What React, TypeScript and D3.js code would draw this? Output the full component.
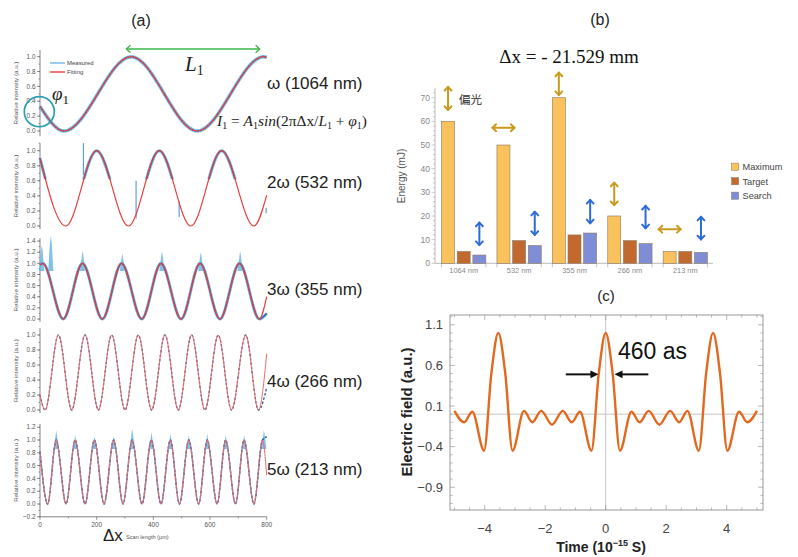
import React from "react";
import * as d3 from "d3";

// ---------- (a) scan traces: turning points (Δx in µm, intensity in a.u.)
const harmonicLabels = ["ω (1064 nm)", "2ω (532 nm)", "3ω (355 nm)", "4ω (266 nm)", "5ω (213 nm)"];

const fitW1 = [[0, 0.33], [85, 0], [322, 1], [555, 0], [790, 1], [800, 0.99]];
const fitW2 = [[0, 0.9], [91, 0], [200, 1], [312, 0], [421, 1], [532, 0], [641, 1], [755, 0], [800, 0.41]];
const fitW3 = [[0, 0.97], [10, 1], [82, 0], [150, 1], [220, 0], [288, 1], [359, 0], [427, 1], [498, 0],
  [565, 1], [635, 0], [704, 1], [774, 0], [800, 0.4]];
const fitW4 = [[0, 0.2], [18, 0], [65, 1], [112, 0], [159, 1], [206, 0], [253, 1], [300, 0], [347, 1], [394, 0],
  [441, 1], [488, 0], [535, 1], [582, 0], [629, 1], [676, 0], [726, 1], [771, 0], [800, 0.75]];
const fitW5 = [[0, 0.82], [27, 0], [57, 1], [92, 0], [124, 1], [159, 0], [192, 1], [226, 0], [260, 1], [293, 0],
  [325, 1], [360, 0], [393, 1], [427, 0], [460, 1], [492, 0], [525, 1], [560, 0], [590, 1], [625, 0],
  [655, 1], [690, 0], [720, 1], [755, 0], [785, 1], [800, 0.45]];

// where the measured trace ends (it does not follow the fit at the very end)
const measuredTail = [0.99, 0.2, 0.1, 0.3, 1.05];

// single glitches in the 2ω trace: [x, low, high]
const spikesW2 = [[153, 0.68, 1.1], [339, 0.1, 0.6], [491, 0.12, 0.33], [798, 0.17, 0.24]];
// noisy tops: [x, highest value reached]
const burstsW3 = [[6, 1.32], [38, 1.48], [150, 1.22], [290, 1.18], [430, 1.22], [567, 1.2], [706, 1.22]];
const burstsW5 = [[57, 1.15], [124, 1.08], [192, 1.06], [260, 1.06], [325, 1.18], [393, 1.12], [460, 1.1],
  [525, 1.08], [590, 1.1], [655, 1.08], [720, 1.08], [790, 1.16]];

const scanTicksX = [0, 200, 400, 600, 800];

// ---------- (b) pulse energy per wavelength
const bandLabels = ["1064 nm", "532 nm", "355 nm", "266 nm", "213 nm"];
const energySeries = ["Maximum", "Target", "Search"];
const maximumMJ = [60, 50, 70, 20, 5];
const targetMJ = [5, 9.6, 12, 9.6, 5];
const searchMJ = [3.5, 7.5, 12.8, 8.3, 4.6];
const energyTicks = [0, 10, 20, 30, 40, 50, 60, 70];

// polarisation arrows: band, bar, vertical/horizontal, extent in mJ
const polBand = [0, 1, 2, 3, 4, 0, 1, 2, 3, 4];
const polSeries = [0, 0, 0, 0, 0, 2, 2, 2, 2, 2];
const polVertical = [true, false, true, true, false, true, true, true, true, true];
const polLow = [64.8, 57.3, 71.1, 24.6, 14.4, 7.7, 12.0, 16.9, 14.8, 10.1];
const polHigh = [74.6, 57.3, 80.6, 34.1, 14.4, 17.2, 21.8, 26.8, 24.3, 19.7];

// ---------- (c) synthesized field
const timeFs = [-5.0, -4.68, -4.41, -4.02, -3.78, -3.55, -3.32, -3.08, -2.7, -2.43, -2.13, -1.775, -1.42, -1.12,
  -0.85, -0.47, -0.23, 0, 0.23, 0.47, 0.85, 1.12, 1.42, 1.775, 2.13, 2.43, 2.7, 3.08, 3.32, 3.55, 3.78, 4.02,
  4.41, 4.68, 5.0];
const fieldAU = [0.04, -0.1, 0.03, -0.45, 0.5, 1.0, 0.5, -0.45, 0.04, -0.1, 0.04, -0.13, 0.04, -0.1,
  0.03, -0.45, 0.5, 1.0, 0.5, -0.45, 0.03, -0.1, 0.04, -0.13, 0.04, -0.1, 0.04, -0.45, 0.5, 1.0, 0.5, -0.45,
  0.03, -0.1, 0.04];
const fieldTicks = [1.1, 0.6, 0.1, -0.4, -0.9];
const timeTicks = [-4, -2, 0, 2, 4];
const fwhmFrom = [-1.32, 1.41];
const fwhmTo = [-0.24, 0.29];

const GOLD = "#c99a1c";
const BLUE = "#2e6bd6";
const barColors = ["#f9c25c", "#c1692e", "#7f8dd6"];

function DoubleArrow({ x1, y1, x2, y2, color, width = 2, head = 5 }) {
  const a = Math.atan2(y2 - y1, x2 - x1);
  const chevron = (x, y, dir) => {
    const b = a + (dir > 0 ? 0 : Math.PI);
    const p1 = [x - head * Math.cos(b - 0.75), y - head * Math.sin(b - 0.75)];
    const p2 = [x - head * Math.cos(b + 0.75), y - head * Math.sin(b + 0.75)];
    return `M${p1[0]},${p1[1]}L${x},${y}L${p2[0]},${p2[1]}`;
  };
  return (
    <g stroke={color} strokeWidth={width} fill="none" strokeLinecap="round" strokeLinejoin="round">
      <line x1={x1} y1={y1} x2={x2} y2={y2} />
      <path d={chevron(x2, y2, 1)} />
      <path d={chevron(x1, y1, -1)} />
    </g>
  );
}

const scanX = d3.scaleLinear().domain([0, 800]).range([40, 266.7]);

const scanPanels = [
  { fit: fitW1, zero: 131, one: 56.7, axis: [-0.07, 1.09], top: 1.0, labelY: 89, halo: 3.4, core: "1.6 1.2", clipAbove: null, bursts: [], spikes: [] },
  { fit: fitW2, zero: 226, one: 150.7, axis: [-0.04, 1.1], top: 1.0, labelY: 188, halo: 3, core: null, clipAbove: 0.62, bursts: [], spikes: spikesW2 },
  { fit: fitW3, zero: 319, one: 263.3, axis: [-0.05, 1.45], top: 1.4, labelY: 295, halo: 3, core: null, clipAbove: null, bursts: burstsW3, spikes: [] },
  { fit: fitW4, zero: 410, one: 335, axis: [-0.04, 1.09], top: 1.0, labelY: 387, halo: 0, core: "2.5 1.8", clipAbove: null, bursts: [], spikes: [] },
  { fit: fitW5, zero: 504, one: 440, axis: [-0.2, 1.25], top: 1.2, labelY: 475, halo: 1.5, core: "2.5 1.8", clipAbove: null, bursts: burstsW5, spikes: [] },
];

function ScanPanel({ p, i }) {
  const y = d3.scaleLinear().domain([0, 1]).range([p.zero, p.one]);
  const line = d3.line().x((d) => scanX(d[0])).y((d) => y(d[1])).curve(d3.curveMonotoneX);
  const measured = [...p.fit.slice(0, -1), [800, measuredTail[i]]];
  const lo = p.axis[0] < -0.1 ? -0.2 : 0;
  const major = d3.range(Math.round(lo * 5), Math.round(p.top * 5) + 1).map((v) => v / 5);
  const minor = d3.range(Math.ceil(p.axis[0] * 10), Math.floor(p.axis[1] * 10) + 1).map((v) => v / 10);
  const fmt = d3.format(".1f");
  const clipId = `clip-scan-${i}`;
  const mid = (y(p.axis[0]) + y(p.axis[1])) / 2;
  return (
    <g>
      {p.clipAbove != null && (
        <clipPath id={clipId}>
          <rect x={30} y={y(1.3)} width={250} height={y(p.clipAbove) - y(1.3)} />
        </clipPath>
      )}
      <line x1={40} x2={40} y1={y(p.axis[0])} y2={y(p.axis[1])} stroke="#666" strokeWidth={0.8} />
      {minor.map((v) => (
        <line key={"m" + v} x1={38.5} x2={40} y1={y(v)} y2={y(v)} stroke="#666" strokeWidth={0.6} />
      ))}
      {major.map((v) => (
        <g key={v}>
          <line x1={37} x2={40} y1={y(v)} y2={y(v)} stroke="#666" strokeWidth={0.7} />
          <text x={35.5} y={y(v) + 2.2} fontSize={6.4} fill="#555" textAnchor="end">{fmt(v)}</text>
        </g>
      ))}
      <text transform={`translate(18,${mid}) rotate(-90)`} fontSize={6.2} fill="#555" textAnchor="middle">
        Relative intensity (a.u.)
      </text>
      {p.bursts.map(([bx, top], k) => (
        <path key={"b" + k}
          d={`M${scanX(bx - 9)},${y(0.86)}L${scanX(bx - 3)},${y(top - 0.12)}L${scanX(bx)},${y(top)}L${scanX(bx + 3)},${y(top - 0.08)}L${scanX(bx + 9)},${y(0.86)}Z`}
          fill="#5aaee0" opacity={0.75} />
      ))}
      <g clipPath={p.clipAbove != null ? `url(#${clipId})` : undefined}>
        {p.halo > 0 && <path d={line(measured)} fill="none" stroke="#5aaee0" strokeWidth={p.halo} opacity={0.85} />}
        <path d={line(measured)} fill="none" stroke="#1d5d9b" strokeWidth={1.3} strokeDasharray={p.core || undefined} />
      </g>
      {p.spikes.map(([sx, a, b], k) => (
        <line key={"s" + k} x1={scanX(sx)} x2={scanX(sx)} y1={y(a)} y2={y(b)} stroke="#3f8fd0" strokeWidth={1} />
      ))}
      <path d={line(p.fit)} fill="none" stroke={i >= 3 ? "#ee6a6a" : "#e8403f"} strokeWidth={i >= 3 ? 1 : 1.2} />
      <text x={267} y={p.labelY} fontSize={17} fill="#222">{harmonicLabels[i]}</text>
    </g>
  );
}

function ScanFigure() {
  const yBottom = 516.8;
  return (
    <g>
      <text x={141} y={26} fontSize={16} textAnchor="middle" fill="#222">(a)</text>
      {scanPanels.map((p, i) => <ScanPanel key={i} p={p} i={i} />)}
      {/* legend of the first trace */}
      <line x1={50} x2={65} y1={63} y2={63} stroke="#6fb7e3" strokeWidth={1.4} />
      <line x1={50} x2={65} y1={72} y2={72} stroke="#e8403f" strokeWidth={1.4} />
      <text x={67} y={65} fontSize={6} fill="#444">Measured</text>
      <text x={67} y={74} fontSize={6} fill="#444">Fitting</text>
      {/* annotations on the first trace */}
      <circle cx={39.3} cy={111.7} r={15} fill="none" stroke="#2aa0b0" strokeWidth={1.7} />
      <text x={52} y={100} fontFamily="'Liberation Serif', serif" fill="#222">
        <tspan fontStyle="italic" fontSize={19}>φ</tspan>
        <tspan fontSize={13} dy={4}>1</tspan>
      </text>
      <DoubleArrow x1={scanX(305)} y1={49} x2={scanX(775)} y2={49} color="#3db54a" width={1.3} head={5} />
      <text x={185} y={71} fontFamily="'Liberation Serif', serif" fill="#222">
        <tspan fontStyle="italic" fontSize={21}>L</tspan>
        <tspan fontSize={14} dy={4}>1</tspan>
      </text>
      <text x={217} y={126} fontFamily="'Liberation Serif', serif" fontSize={15.4} fill="#222">
        <tspan fontStyle="italic">I</tspan><tspan fontSize={10} dy={3}>1</tspan>
        <tspan dy={-3}> = </tspan>
        <tspan fontStyle="italic">A</tspan><tspan fontSize={10} dy={3}>1</tspan>
        <tspan dy={-3} fontStyle="italic">sin</tspan>
        <tspan>(2πΔx/</tspan>
        <tspan fontStyle="italic">L</tspan><tspan fontSize={10} dy={3}>1</tspan>
        <tspan dy={-3}> + </tspan>
        <tspan fontStyle="italic">φ</tspan><tspan fontSize={10} dy={3}>1</tspan>
        <tspan dy={-3}>)</tspan>
      </text>
      {/* shared x axis */}
      <line x1={40} x2={266.7} y1={yBottom} y2={yBottom} stroke="#666" strokeWidth={0.8} />
      {d3.range(0, 801, 100).map((v) => (
        <line key={v} x1={scanX(v)} x2={scanX(v)} y1={yBottom} y2={yBottom + (v % 200 === 0 ? 3 : 1.5)} stroke="#666" strokeWidth={0.7} />
      ))}
      {scanTicksX.map((v) => (
        <text key={v} x={scanX(v)} y={527} fontSize={6.5} fill="#555" textAnchor="middle">{v}</text>
      ))}
      <text x={103} y={541} fontSize={17} fill="#222">Δx</text>
      <text x={126} y={539} fontSize={5.6} fill="#555">Scan length (µm)</text>
    </g>
  );
}

function EnergyBars() {
  const x = d3.scaleBand().domain(bandLabels).range([436, 713]).paddingInner(0.2).paddingOuter(0.1);
  const xs = d3.scaleBand().domain(energySeries).range([0, x.bandwidth()]).paddingInner(0.17);
  const y = d3.scaleLinear().domain([0, 70]).range([263.3, 97.7]);
  const values = [maximumMJ, targetMJ, searchMJ];
  const barCenter = (b, s) => x(bandLabels[b]) + xs(energySeries[s]) + xs.bandwidth() / 2;
  return (
    <g>
      <text x={600} y={25} fontSize={16} textAnchor="middle" fill="#222">(b)</text>
      <text x={569} y={63} fontFamily="'Liberation Serif', serif" fontSize={19} textAnchor="middle" fill="#111">
        Δx = - 21.529 mm
      </text>
      <text transform="translate(405,176) rotate(-90)" fontSize={10} fill="#555" textAnchor="middle">Energy (mJ)</text>
      {/* axes */}
      <line x1={435} x2={435} y1={y(0)} y2={y(74)} stroke="#aaa" strokeWidth={0.8} />
      {d3.range(0, 74, 2).map((v) => (
        <line key={v} x1={v % 10 === 0 ? 431.5 : 433} x2={435} y1={y(v)} y2={y(v)} stroke="#aaa" strokeWidth={0.6} />
      ))}
      {energyTicks.map((v) => (
        <text key={v} x={430} y={y(v) + 3} fontSize={8.5} fill="#888" textAnchor="end">{v}</text>
      ))}
      <line x1={435} x2={713} y1={y(0)} y2={y(0)} stroke="#aaa" strokeWidth={0.8} />
      {bandLabels.map((b) => (
        <g key={b}>
          <line x1={x(b)} x2={x(b)} y1={y(0)} y2={y(0) + 4} stroke="#aaa" strokeWidth={0.7} />
          <line x1={x(b) + x.bandwidth()} x2={x(b) + x.bandwidth()} y1={y(0)} y2={y(0) + 4} stroke="#aaa" strokeWidth={0.7} />
          <text x={x(b) + x.bandwidth() / 2} y={273} fontSize={7.4} fill="#888" textAnchor="middle">{b}</text>
        </g>
      ))}
      {/* bars */}
      {bandLabels.map((b, bi) =>
        energySeries.map((s, si) => (
          <rect key={b + s} x={x(b) + xs(s)} y={y(values[si][bi])} width={xs.bandwidth()}
            height={y(0) - y(values[si][bi])} fill={barColors[si]} stroke="#8a7a66" strokeWidth={0.6} />
        ))
      )}
      {/* polarisation arrows */}
      {polBand.map((b, k) => {
        const cx = barCenter(b, polSeries[k]);
        const color = polSeries[k] === 0 ? GOLD : BLUE;
        return polVertical[k] ? (
          <DoubleArrow key={k} x1={cx} y1={y(polHigh[k])} x2={cx} y2={y(polLow[k])} color={color} width={2} head={5} />
        ) : (
          <DoubleArrow key={k} x1={cx - 11} y1={y(polLow[k])} x2={cx + 11} y2={y(polLow[k])} color={color} width={2} head={5} />
        );
      })}
      <text x={459} y={104} fontFamily="'Noto Sans CJK JP', 'Noto Sans CJK SC', sans-serif" fontSize={11.5} fill="#333">偏光</text>
      {/* legend */}
      {energySeries.map((s, si) => (
        <g key={s} transform={`translate(731.5,${166.7 + si * 14.5})`}>
          <rect x={0} y={-3.6} width={7.2} height={7.2} fill={barColors[si]} stroke="#8a7a66" strokeWidth={0.5} />
          <text x={11} y={3.3} fontSize={9.2} fill="#444">{s}</text>
        </g>
      ))}
    </g>
  );
}

function FieldPlot() {
  const x = d3.scaleLinear().domain([-5.147, 5.2]).range([450, 763]);
  const y = d3.scaleLinear().domain([-1.18, 1.221]).range([510, 315]);
  const line = d3.line().x((d, i) => x(timeFs[i])).y((d) => y(d)).curve(d3.curveMonotoneX);
  const fmt = d3.format("");
  const [x0, x1] = x.range();
  const [yb, yt] = y.range();
  const xMinor = d3.range(-50, 51, 5).map((v) => v / 10);
  const yMinor = d3.range(-11, 13, 1).map((v) => v / 10);
  return (
    <g>
      <text x={606} y={301} fontSize={15} textAnchor="middle" fill="#222">(c)</text>
      <line x1={x0} x2={x1} y1={y(0)} y2={y(0)} stroke="#c4c4c4" strokeWidth={1} />
      <line x1={x(0)} x2={x(0)} y1={yb} y2={yt} stroke="#c4c4c4" strokeWidth={1} />
      <rect x={x0} y={yt} width={x1 - x0} height={yb - yt} fill="none" stroke="#999" strokeWidth={1} />
      {xMinor.map((v) => {
        const len = timeTicks.includes(v) ? 5 : 2.5;
        return (
          <g key={"x" + v} stroke="#999" strokeWidth={0.7}>
            <line x1={x(v)} x2={x(v)} y1={yb} y2={yb - len} />
            <line x1={x(v)} x2={x(v)} y1={yt} y2={yt + len} />
          </g>
        );
      })}
      {yMinor.map((v) => {
        const len = fieldTicks.some((t) => Math.abs(t - v) < 1e-9) ? 5 : 2.5;
        return (
          <g key={"y" + v} stroke="#999" strokeWidth={0.7}>
            <line x1={x0} x2={x0 + len} y1={y(v)} y2={y(v)} />
            <line x1={x1} x2={x1 - len} y1={y(v)} y2={y(v)} />
          </g>
        );
      })}
      {fieldTicks.map((v) => (
        <text key={v} x={443} y={y(v) + 4.5} fontSize={13} fill="#444" textAnchor="end">{fmt(v)}</text>
      ))}
      {timeTicks.map((v) => (
        <text key={v} x={x(v)} y={533} fontSize={13} fill="#444" textAnchor="middle">{fmt(v)}</text>
      ))}
      <path d={line(fieldAU)} fill="none" stroke="#e2691f" strokeWidth={2.4} strokeLinejoin="round" />
      {fwhmFrom.map((f, k) => {
        const ay = y(0.49);
        const tip = x(fwhmTo[k]);
        const dir = Math.sign(fwhmTo[k] - f);
        return (
          <g key={k}>
            <line x1={x(f)} x2={tip - dir * 6} y1={ay} y2={ay} stroke="#111" strokeWidth={2} />
            <path d={`M${tip},${ay}L${tip - dir * 8},${ay - 3.8}L${tip - dir * 8},${ay + 3.8}Z`} fill="#111" />
          </g>
        );
      })}
      <text x={618} y={359} fontSize={23} fill="#111">460 as</text>
      <text transform="translate(412,412) rotate(-90)" fontSize={15} fontWeight="bold" fill="#222" textAnchor="middle">
        Electric field (a.u.)
      </text>
      <text x={601} y={552} fontSize={14} fontWeight="bold" fill="#222" textAnchor="middle">
        Time (10<tspan fontSize={9} dy={-6}>−15</tspan><tspan dy={6}> S)</tspan>
      </text>
    </g>
  );
}

export default function App() {
  return (
    <svg width={798} height={557} style={{ position: "absolute", left: 0, top: 0, background: "#fff" }}
      fontFamily="'Liberation Sans', Arial, sans-serif">
      <rect width={798} height={557} fill="#fff" />
      <ScanFigure />
      <EnergyBars />
      <FieldPlot />
    </svg>
  );
}
